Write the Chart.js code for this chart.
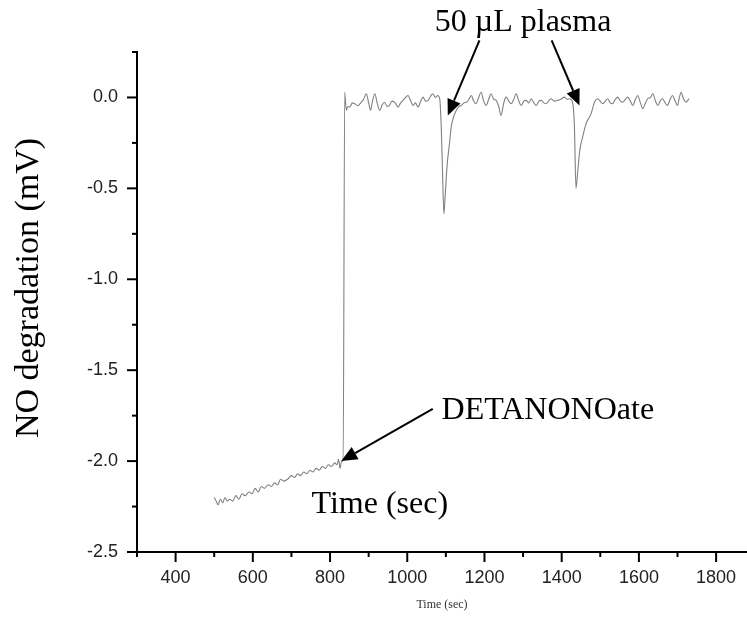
<!DOCTYPE html>
<html>

<head>
    <title>NO degradation</title>
    <style>
        body { margin: 0; background: #fff; }
        #grafico { display: block; }
    </style>
</head>

<body>
    <canvas id="grafico" width="747" height="617"></canvas>

    <script src="https://cdn.jsdelivr.net/npm/chart.js"></script>

    <script>
        // Dados
        var timeSec = [
            500, 505, 510, 516, 522, 528, 534, 540, 548, 556, 564, 572, 580, 590, 598, 606, 614, 622, 630, 640,
            648, 656, 664, 672, 680, 690, 700, 708, 716, 724, 732, 740, 748, 756, 764, 772, 780, 788, 796, 804,
            812, 818, 822, 826, 830, 834, 838, 842, 846, 851, 858, 864, 872, 881, 887, 894, 900, 905, 910, 916,
            922, 929, 935, 941, 948, 954, 960, 967, 972, 976, 983, 989, 996, 1002, 1009, 1015, 1021, 1028, 1035, 1041,
            1047, 1054, 1060, 1066, 1073, 1079, 1084, 1088, 1092, 1095, 1098, 1103, 1110, 1114, 1121, 1127, 1134, 1140, 1147, 1153,
            1160, 1166, 1172, 1178, 1185, 1191, 1198, 1204, 1211, 1217, 1224, 1230, 1237, 1243, 1250, 1256, 1263, 1269, 1276, 1282,
            1289, 1295, 1302, 1308, 1315, 1321, 1328, 1334, 1341, 1347, 1354, 1360, 1366, 1372, 1381, 1390, 1398, 1407, 1414, 1420,
            1428, 1433, 1437, 1441, 1447, 1454, 1463, 1476, 1485, 1493, 1500, 1506, 1513, 1519, 1526, 1532, 1539, 1545, 1552, 1558,
            1565, 1571, 1578, 1584, 1591, 1597, 1604, 1610, 1617, 1623, 1630, 1636, 1643, 1649, 1655, 1661, 1668, 1674, 1681, 1687,
            1694, 1700, 1705, 1709, 1716, 1722, 1730
        ];
        var signalMV = [
            -2.20, -2.22, -2.24, -2.21, -2.23, -2.20, -2.22, -2.21, -2.22, -2.19, -2.21, -2.18, -2.19, -2.17, -2.18, -2.15, -2.17, -2.14, -2.15, -2.13,
            -2.14, -2.12, -2.13, -2.10, -2.11, -2.10, -2.08, -2.09, -2.07, -2.08, -2.06, -2.07, -2.05, -2.06, -2.04, -2.05, -2.03, -2.04, -2.02, -2.03,
            -2.01, -2.02, -1.99, -2.04, -2.00, -2.00, 0.03, -0.07, -0.05, -0.053, -0.03, -0.035, -0.045, -0.026, -0.01, 0.020, -0.03, -0.071, -0.02, 0.020,
            -0.03, -0.071, -0.04, -0.026, -0.05, -0.044, -0.02, -0.026, -0.04, -0.053, -0.03, -0.016, 0.0, 0.011, -0.02, -0.044, -0.03, -0.053, -0.02, 0.002,
            -0.02, -0.016, 0.005, 0.020, 0.0, 0.011, -0.007, -0.16, -0.46, -0.64, -0.55, -0.38, -0.24, -0.16, -0.10, -0.071, -0.05, -0.044, -0.03, -0.026,
            -0.01, 0.011, -0.02, -0.035, 0.0, 0.029, -0.02, -0.044, -0.01, 0.020, -0.01, -0.016, -0.05, -0.099, -0.03, 0.002, -0.02, -0.035, -0.01, 0.020,
            -0.02, -0.044, -0.02, -0.016, -0.03, -0.007, -0.03, -0.044, -0.02, -0.016, -0.03, -0.035, -0.02, -0.007, -0.02, -0.016, -0.01, 0.002, -0.01, -0.007,
            -0.026, -0.16, -0.50, -0.42, -0.29, -0.22, -0.145, -0.09, -0.026, -0.007, -0.02, -0.035, -0.02, -0.007, -0.03, -0.035, -0.01, 0.002, -0.02, -0.026,
            -0.01, 0.002, -0.02, -0.044, -0.01, 0.011, -0.03, -0.062, -0.03, -0.007, 0.0, 0.020, -0.02, -0.044, -0.02, -0.007, -0.03, -0.044, -0.01, 0.011,
            -0.02, -0.044, 0.0, 0.029, -0.01, -0.026, -0.007
        ];

        // Eixos
        var xMin = 300, xMax = 1880;
        var yMin = -2.5, yMax = 0.25;
        var xTickValues = [300, 400, 500, 600, 700, 800, 900, 1000, 1100, 1200, 1300, 1400, 1500, 1600, 1700, 1800];
        var xTickLabels = ["400", "600", "800", "1000", "1200", "1400", "1600", "1800"];
        var yTickValues = [-2.5, -2.25, -2.0, -1.75, -1.5, -1.25, -1.0, -0.75, -0.5, -0.25, 0.0, 0.25];
        var yTickLabels = ["-2.5", "-2.0", "-1.5", "-1.0", "-0.5", "0.0"];

        // Anotações (em coordenadas de dados)
        var plasmaLabel = { text: "50 \u00b5L plasma", x: 1300, y: 0.41 };
        var plasmaArrows = [
            { from: [1187, 0.314], to: [1105, -0.099] },
            { from: [1374, 0.314], to: [1446, -0.044] }
        ];
        var detaLabel = { text: "DETANONOate", x: 1089, y: -1.725 };
        var detaArrow = { from: [1066, -1.713], to: [829, -2.0] };
        var timeLabel = { text: "Time (sec)", x: 929, y: -2.24 };

        var pontos = timeSec.map(function (t, i) { return { x: t, y: signalMV[i] }; });

        function seta(ctx, x0, y0, x1, y1) {
            var ang = Math.atan2(y1 - y0, x1 - x0);
            var len = 16, w = 7;
            var bx = x1 - len * Math.cos(ang), by = y1 - len * Math.sin(ang);
            ctx.beginPath();
            ctx.moveTo(x0, y0);
            ctx.lineTo(bx, by);
            ctx.stroke();
            ctx.beginPath();
            ctx.moveTo(x1, y1);
            ctx.lineTo(bx + w * Math.sin(ang), by - w * Math.cos(ang));
            ctx.lineTo(bx - w * Math.sin(ang), by + w * Math.cos(ang));
            ctx.closePath();
            ctx.fill();
        }

        var extras = {
            id: "extras",
            afterDraw: function (chart) {
                var ctx = chart.ctx, a = chart.chartArea;
                var x = chart.scales.x, y = chart.scales.y;
                ctx.save();
                ctx.strokeStyle = "#000";
                ctx.fillStyle = "#000";
                ctx.lineWidth = 2;

                // marcas dos eixos
                xTickValues.forEach(function (v) {
                    var px = x.getPixelForValue(v);
                    var len = (v % 200 === 0) ? 10 : 5;
                    ctx.beginPath();
                    ctx.moveTo(px, a.bottom);
                    ctx.lineTo(px, a.bottom + len);
                    ctx.stroke();
                });
                yTickValues.forEach(function (v) {
                    var py = y.getPixelForValue(v);
                    var len = (Math.abs(v * 2 - Math.round(v * 2)) < 1e-6) ? 10 : 5;
                    ctx.beginPath();
                    ctx.moveTo(a.left - len, py);
                    ctx.lineTo(a.left, py);
                    ctx.stroke();
                });

                // setas
                plasmaArrows.concat([detaArrow]).forEach(function (s) {
                    seta(ctx, x.getPixelForValue(s.from[0]), y.getPixelForValue(s.from[1]),
                        x.getPixelForValue(s.to[0]), y.getPixelForValue(s.to[1]));
                });

                // textos
                ctx.font = "32px 'Liberation Serif', 'Times New Roman', serif";
                ctx.textBaseline = "middle";
                ctx.textAlign = "center";
                ctx.fillText(plasmaLabel.text, x.getPixelForValue(plasmaLabel.x), y.getPixelForValue(plasmaLabel.y));
                ctx.fillText(timeLabel.text, x.getPixelForValue(timeLabel.x), y.getPixelForValue(timeLabel.y));
                ctx.textAlign = "left";
                ctx.fillText(detaLabel.text, x.getPixelForValue(detaLabel.x), y.getPixelForValue(detaLabel.y));

                // título do eixo y
                ctx.save();
                ctx.font = "34px 'Liberation Serif', 'Times New Roman', serif";
                ctx.translate(29, 288);
                ctx.rotate(-Math.PI / 2);
                ctx.textAlign = "center";
                ctx.fillText("NO degradation (mV)", 0, 0);
                ctx.restore();

                // título pequeno do eixo x
                ctx.font = "12px 'Liberation Serif', 'Times New Roman', serif";
                ctx.textAlign = "center";
                ctx.fillStyle = "#333";
                ctx.fillText("Time (sec)", (a.left + a.right) / 2, 605);

                ctx.restore();
            }
        };

        function fixarTicks(valores) {
            return function (s) {
                s.ticks = valores.map(function (v) { return { value: v }; });
            };
        }

        var ctx = document.getElementById("grafico").getContext("2d");
        var grafico = new Chart(ctx, {
            type: "line",
            data: {
                datasets: [{
                    data: pontos,
                    borderColor: "#808080",
                    borderWidth: 1.1,
                    pointRadius: 0,
                    cubicInterpolationMode: "monotone",
                    fill: false
                }]
            },
            options: {
                responsive: false,
                animation: false,
                layout: { padding: { top: 52, right: 0, left: 0, bottom: 0 } },
                plugins: {
                    legend: { display: false },
                    tooltip: { enabled: false }
                },
                scales: {
                    x: {
                        type: "linear",
                        min: xMin,
                        max: xMax,
                        afterBuildTicks: fixarTicks(xTickValues),
                        afterFit: function (s) { s.height = 65; },
                        grid: { drawOnChartArea: false, color: "transparent", tickColor: "transparent", tickLength: 10 },
                        border: { display: true, color: "#000", width: 2 },
                        ticks: {
                            autoSkip: false,
                            maxRotation: 0,
                            padding: 5,
                            color: "#222",
                            font: { family: "'Liberation Sans', Arial, sans-serif", size: 18 },
                            callback: function (v) {
                                var s = String(v);
                                return xTickLabels.indexOf(s) >= 0 ? s : "";
                            }
                        }
                    },
                    y: {
                        min: yMin,
                        max: yMax,
                        afterBuildTicks: fixarTicks(yTickValues),
                        afterFit: function (s) { s.width = 137; },
                        grid: { drawOnChartArea: false, color: "transparent", tickColor: "transparent", tickLength: 10 },
                        border: { display: true, color: "#000", width: 2 },
                        ticks: {
                            autoSkip: false,
                            padding: 9,
                            color: "#222",
                            font: { family: "'Liberation Sans', Arial, sans-serif", size: 18 },
                            callback: function (v) {
                                var s = Math.abs(v) < 1e-9 ? "0.0" : v.toFixed(1);
                                return yTickLabels.indexOf(s) >= 0 ? s : "";
                            }
                        }
                    }
                }
            },
            plugins: [extras]
        });
    </script>
</body>

</html>
